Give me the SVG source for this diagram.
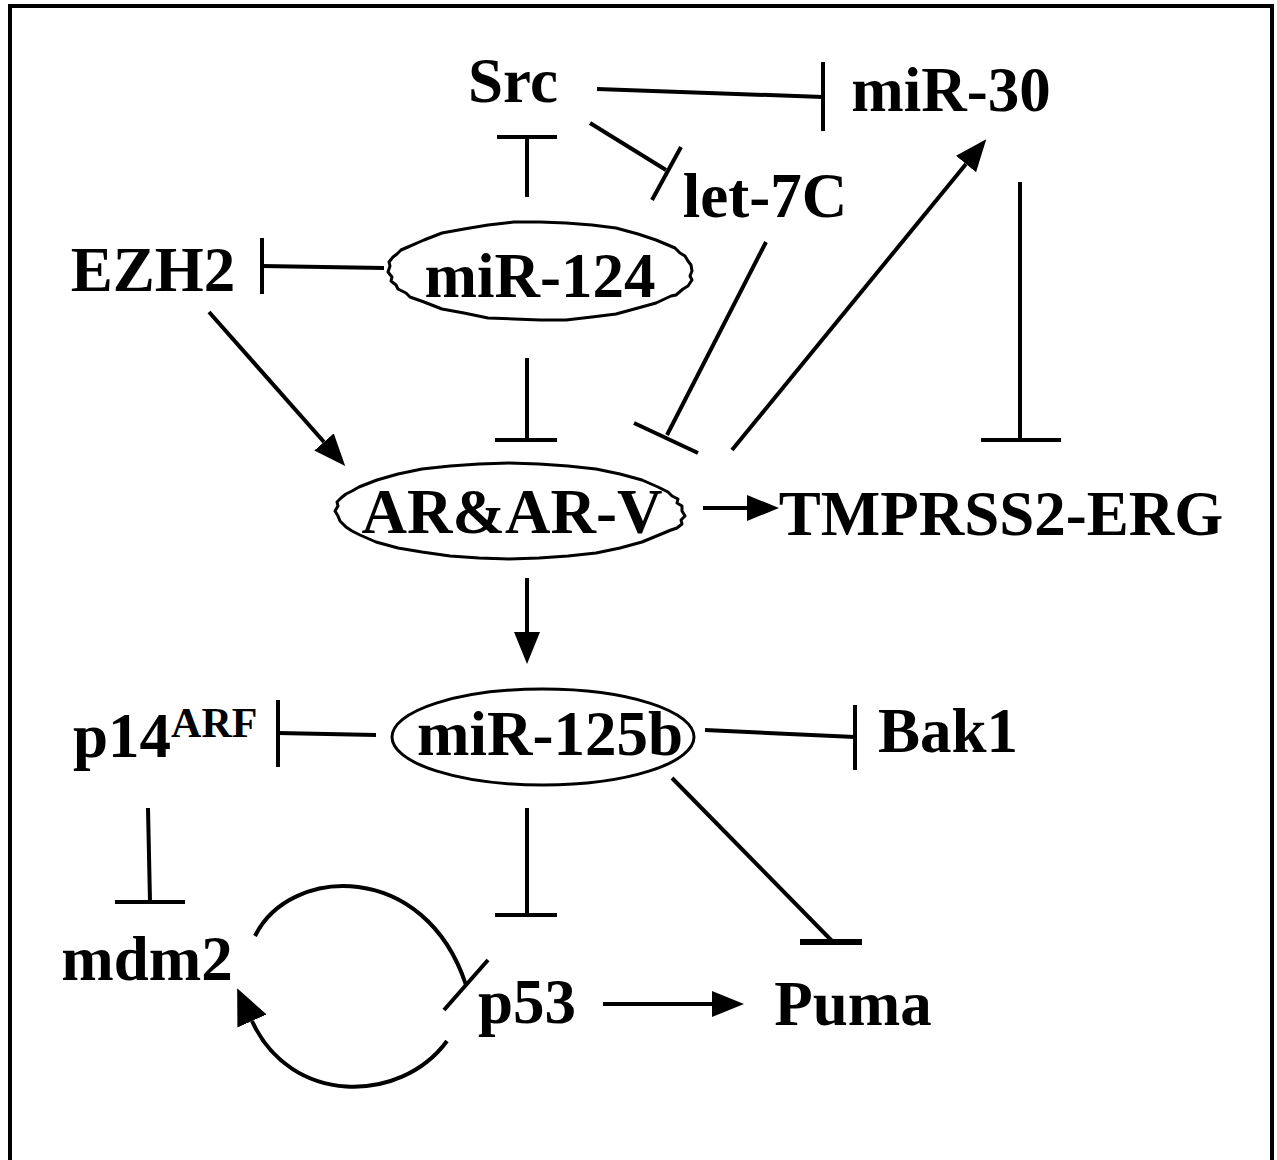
<svg xmlns="http://www.w3.org/2000/svg" width="1277" height="1160" viewBox="0 0 1277 1160">
<style>
  text { font-family: "Liberation Serif", "Times New Roman", serif; font-weight: bold; font-size: 63px; fill: #000; text-anchor: middle; }
  .c line, .c path { stroke: #000; stroke-width: 4; fill: none; }
  .oval { fill: none; stroke: #000; stroke-width: 3; stroke-linejoin: round; }
</style>
<defs>
  <marker id="ah" markerUnits="userSpaceOnUse" markerWidth="34" markerHeight="26" refX="0" refY="13" orient="auto" viewBox="0 0 34 26">
    <path d="M0,0 L32,13 L0,26 Z" fill="#000"/>
  </marker>
  <marker id="ahb" markerUnits="userSpaceOnUse" markerWidth="38" markerHeight="32" refX="0" refY="16" orient="auto" viewBox="0 0 38 32">
    <path d="M0,0 L36,16 L0,32 Z" fill="#000"/>
  </marker>
</defs>
<rect x="10" y="6" width="1262" height="1170" fill="#fff" stroke="#000" stroke-width="4"/>

<g id="connectors" class="c">
  <!-- inhibitions -->
  <line x1="597" y1="89" x2="823" y2="97"/><line x1="823" y1="62" x2="823" y2="131"/>
  <line x1="590" y1="123" x2="666" y2="170"/><line x1="681" y1="147" x2="652" y2="200"/>
  <line x1="527" y1="137" x2="527" y2="197"/><line x1="497" y1="137" x2="557" y2="137"/>
  <line x1="384" y1="268" x2="262" y2="266"/><line x1="262" y1="238" x2="262" y2="294"/>
  <line x1="527" y1="358" x2="527" y2="440"/><line x1="495" y1="440" x2="557" y2="440"/>
  <line x1="766" y1="242" x2="667" y2="435"/><line x1="634" y1="423" x2="698" y2="453"/>
  <line x1="1020" y1="182" x2="1020" y2="440"/><line x1="981" y1="440" x2="1061" y2="440"/>
  <line x1="376" y1="735" x2="278" y2="733"/><line x1="278" y1="700" x2="278" y2="767"/>
  <line x1="705" y1="730" x2="855" y2="737"/><line x1="855" y1="705" x2="855" y2="770"/>
  <line x1="527" y1="808" x2="527" y2="915"/><line x1="495" y1="915" x2="557" y2="915"/>
  <line x1="672" y1="778" x2="833" y2="942"/><line x1="800" y1="942" x2="862" y2="942" style="stroke-width:6"/>
  <line x1="148" y1="808" x2="150" y2="902"/><line x1="115" y1="902" x2="185" y2="902"/>
  <path d="M255,936 C290,865 425,860 466,985"/><line x1="444" y1="1010" x2="488" y2="960"/>
  <!-- activations -->
  <line x1="703" y1="508" x2="747" y2="508" marker-end="url(#ah)"/>
  <line x1="209" y1="312" x2="324" y2="442" marker-end="url(#ah)"/>
  <line x1="732" y1="450" x2="966" y2="164" marker-end="url(#ah)"/>
  <line x1="527" y1="578" x2="527" y2="632" marker-end="url(#ah)"/>
  <line x1="603" y1="1004" x2="712" y2="1004" marker-end="url(#ah)"/>
  <path d="M447,1041 C400,1105 290,1105 252,1021" marker-end="url(#ahb)"/>
</g>

<g id="n-src"><text x="513" y="102">Src</text></g>
<g id="n-mir30"><text x="951" y="111">miR-30</text></g>
<g id="n-let7c"><text x="765" y="217">let-7C</text></g>
<g id="n-ezh2"><text x="153" y="291">EZH2</text></g>
<g id="n-mir124">
  <path class="oval" d="M692,271 L690,276 L692,280 L688,286 L683,289 L676,295 L671,296 L656,303 L638,308 L616,314 L592,317 L566,320 L540,320 L514,319 L488,318 L464,313 L442,309 L424,302 L410,297 L406,293 L398,289 L396,285 L391,281 L392,277 L388,272 L390,266 L389,262 L393,257 L397,254 L401,250 L408,247 L424,240 L442,233 L464,229 L488,225 L514,222 L540,222 L566,223 L592,225 L616,228 L638,234 L656,240 L668,245 L675,248 L680,253 L685,256 L688,261 L691,265 Z"/>
  <text x="540" y="297">miR-124</text>
</g>
<g id="n-ar">
  <path class="oval" d="M682,511 L685,516 L681,520 L682,524 L677,528 L671,530 L659,535 L642,542 L620,548 L596,553 L568,556 L539,558 L509,559 L479,558 L450,556 L422,552 L398,548 L376,542 L360,535 L352,531 L346,527 L340,521 L338,516 L335,511 L338,506 L337,502 L341,498 L346,494 L352,491 L359,487 L377,480 L398,474 L422,469 L450,466 L479,464 L509,463 L539,464 L568,466 L596,469 L620,474 L642,480 L658,487 L668,492 L672,496 L678,499 L677,503 L682,506 Z"/>
  <text x="512" y="533">AR&amp;AR-V</text>
</g>
<g id="n-tmprss2"><text x="1001" y="535">TMPRSS2-ERG</text></g>
<g id="n-mir125b">
  <ellipse class="oval" cx="543" cy="737" rx="151" ry="48"/>
  <text x="550" y="755">miR-125b</text>
</g>
<g id="n-p14"><text x="73" y="757" style="text-anchor:start">p14<tspan dy="-20" style="font-size:42px">ARF</tspan></text></g>
<g id="n-bak1"><text x="948" y="752">Bak1</text></g>
<g id="n-mdm2"><text x="147" y="980">mdm2</text></g>
<g id="n-p53"><text x="527" y="1023">p53</text></g>
<g id="n-puma"><text x="853" y="1025">Puma</text></g>
</svg>
